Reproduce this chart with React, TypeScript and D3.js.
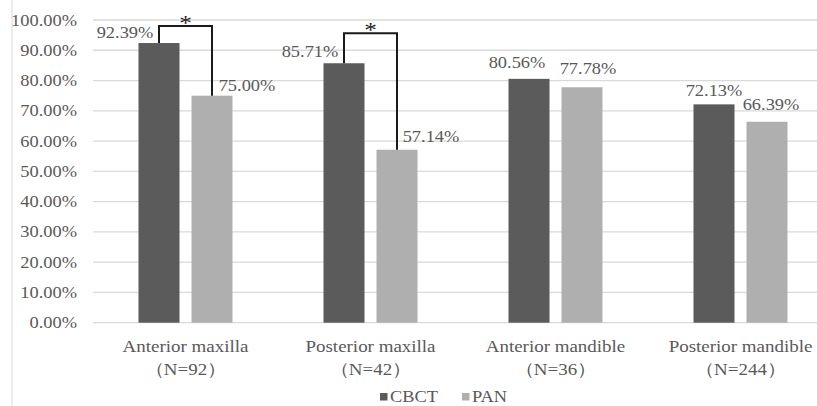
import React from "react";
import * as d3 from "d3";

const categories = ["Anterior maxilla", "Posterior maxilla", "Anterior mandible", "Posterior mandible"];
const sampleLabels = ["（N=92）", "（N=42）", "（N=36）", "（N=244）"];
const seriesNames = ["CBCT", "PAN"];
const cbctValues = [92.39, 85.71, 80.56, 72.13];
const panValues = [75.0, 57.14, 77.78, 66.39];
const yTicks = [0, 10, 20, 30, 40, 50, 60, 70, 80, 90, 100];
const significantPairs = [0, 1];

const W = 817;
const H = 406;
const FONT = "Liberation Serif";
const SX = 1.15;
const TEXT = "#595959";
const COLORS = ["#5b5b5b", "#afafaf"];

// label offsets (style/position tweaks)
const labelDx = [[-34, -34, -12, 0], [35, 34, 6, 4]];
const labelDy = [[-5, -6, -11, -8], [-5, -8, -13, -12]];
const bracketRise = [17, 30];

function T({ x, y, anchor = "middle", size = 16, fill = TEXT, children }: any) {
  return (
    <text
      transform={`translate(${x},${y}) scale(${SX},1)`}
      textAnchor={anchor}
      fontFamily={FONT}
      fontSize={size}
      fill={fill}
    >
      {children}
    </text>
  );
}

export default function App() {
  const y = d3.scaleLinear().domain([0, 100]).range([322.7, 20]);
  const x0 = d3.scaleBand().domain(categories).range([93, 833]).padding(0);
  const bw0 = x0.bandwidth();
  const x1 = d3
    .scaleBand()
    .domain(seriesNames)
    .range([bw0 / 2 - 47, bw0 / 2 + 47])
    .paddingInner(12 / 53)
    .paddingOuter(0);
  const series = [cbctValues, panValues];

  return (
    <svg width={W} height={H} style={{ position: "absolute", left: 0, top: 0, background: "#fff" }}>
      <rect x={0} y={0} width={W} height={H} fill="#fff" />
      <line x1={12} x2={12} y1={0} y2={H} stroke="#d9d9d9" strokeWidth={1} />
      {yTicks.map((t) => (
        <g key={t}>
          <line x1={93} x2={W} y1={y(t)} y2={y(t)} stroke="#d9d9d9" strokeWidth={1.3} />
          <T x={77} y={y(t) + 5.5} anchor="end">
            {t.toFixed(2)}%
          </T>
        </g>
      ))}
      {categories.map((c, i) => (
        <g key={c}>
          {series.map((vals, s) => {
            const bx = (x0(c) as number) + (x1(seriesNames[s]) as number);
            return (
              <g key={s}>
                <rect x={bx} y={y(vals[i])} width={x1.bandwidth()} height={y(0) - y(vals[i])} fill={COLORS[s]} />
                <T x={bx + x1.bandwidth() / 2 + labelDx[s][i]} y={y(vals[i]) + labelDy[s][i]}>
                  {vals[i].toFixed(2)}%
                </T>
              </g>
            );
          })}
          <T x={(x0(c) as number) + bw0 / 2} y={352} size={16.5}>
            {c}
          </T>
          <T x={(x0(c) as number) + bw0 / 2} y={375} size={16.5}>
            {sampleLabels[i]}
          </T>
        </g>
      ))}
      {significantPairs.map((i, k) => {
        const c = categories[i];
        const xa = (x0(c) as number) + (x1("CBCT") as number) + x1.bandwidth() / 2;
        const xb = (x0(c) as number) + (x1("PAN") as number) + x1.bandwidth() / 2;
        const top = y(Math.max(cbctValues[i], panValues[i])) - bracketRise[k];
        return (
          <g key={i}>
            <path
              d={`M${xa},${y(cbctValues[i])}V${top}H${xb}V${y(panValues[i])}`}
              fill="none"
              stroke="#1a1a1a"
              strokeWidth={2}
            />
            <T x={(xa + xb) / 2} y={top + 4} size={22} fill="#222">
              *
            </T>
          </g>
        );
      })}
      {seriesNames.map((s, k) => {
        const lx = k === 0 ? 380 : 462;
        return (
          <g key={s}>
            <rect x={lx} y={393} width={7.5} height={7.5} fill={COLORS[k]} />
            <T x={lx + 10} y={402} anchor="start">
              {s}
            </T>
          </g>
        );
      })}
    </svg>
  );
}
